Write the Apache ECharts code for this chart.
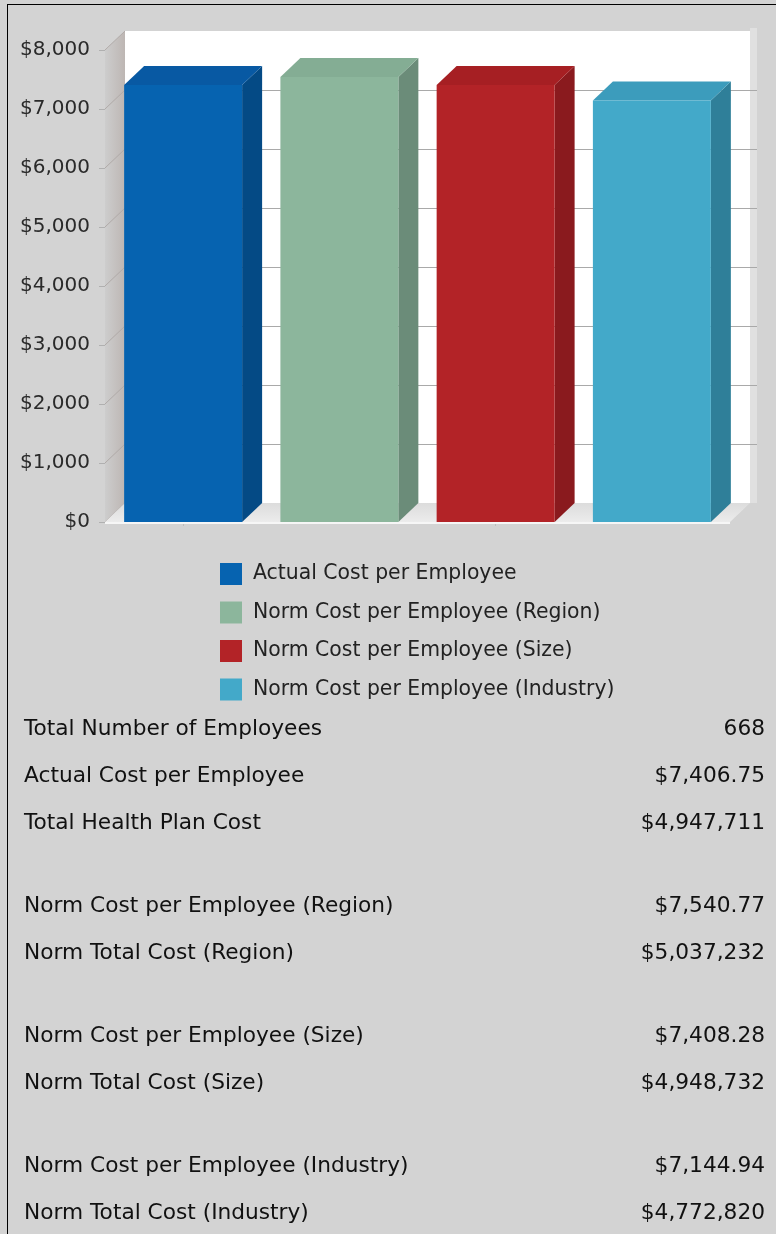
<!DOCTYPE html>
<html>
<head>
<meta charset="utf-8">
<script src="https://cdn.jsdelivr.net/npm/echarts/dist/echarts.min.js"></script>
<style>
  html, body { margin: 0; padding: 0; background: #d3d3d3; width: 776px; height: 1234px; overflow: hidden; }
  #frame { position: absolute; left: 7px; top: 4px; width: 769px; height: 1230px;
           border-top: 1px solid #000; border-left: 1px solid #000; }
  #chart { position: absolute; left: 0; top: 0; width: 776px; height: 720px; }
  #summary { position: absolute; left: 0; top: 0; width: 776px; height: 1234px;
             font-family: "DejaVu Sans", Verdana, sans-serif; font-size: 21.7px; color: #111; }
  .row { position: absolute; left: 24px; width: 741px; height: 30px; line-height: 30px;
         display: flex; justify-content: space-between; white-space: nowrap; }
</style>
</head>
<body>
<div id="frame"></div>
<div id="chart"></div>
<div id="summary"></div>
<script>
// ---- data ----
const seriesNames = [
  'Actual Cost per Employee',
  'Norm Cost per Employee (Region)',
  'Norm Cost per Employee (Size)',
  'Norm Cost per Employee (Industry)'
];
const costPerEmployee = [7406.75, 7540.77, 7408.28, 7144.94];

const yMin = 0, yMax = 8000, yStep = 1000;

const summaryGroups = [
  [['Total Number of Employees', '668'],
   ['Actual Cost per Employee', '$7,406.75'],
   ['Total Health Plan Cost', '$4,947,711']],
  [['Norm Cost per Employee (Region)', '$7,540.77'],
   ['Norm Total Cost (Region)', '$5,037,232']],
  [['Norm Cost per Employee (Size)', '$7,408.28'],
   ['Norm Total Cost (Size)', '$4,948,732']],
  [['Norm Cost per Employee (Industry)', '$7,144.94'],
   ['Norm Total Cost (Industry)', '$4,772,820']]
];

// ---- styling ----
const FONT = '"DejaVu Sans", Verdana, sans-serif';
const faceColors = [
  { front: '#0663b0', side: '#044a85', top: '#0859a3' },
  { front: '#8cb69c', side: '#6b8c79', top: '#84ad94' },
  { front: '#b32327', side: '#8a1a1e', top: '#a61f23' },
  { front: '#43a9c9', side: '#2f7f99', top: '#3c9cbc' }
];
const DX = 20, DY = 19;          // depth offset of the 3D box
const BAR_RATIO = 0.755;         // front face width / category band

// walls, floor and gridlines of the 3D box
function renderFrame(params, api) {
  const cs = params.coordSys;
  const L = cs.x, R = cs.x + cs.width, T = cs.y, B = cs.y + cs.height;
  const kids = [];
  kids.push({ type: 'rect', shape: { x: L + DX, y: T - DY, width: cs.width, height: cs.height },
              style: { fill: '#ffffff' } });
  kids.push({ type: 'rect', shape: { x: R + DX, y: T - DY - 3, width: 7, height: cs.height + 3 },
              style: { fill: '#e0e0e0' } });
  kids.push({ type: 'polygon', shape: { points: [[L, T], [L + DX, T - DY], [L + DX, B - DY], [L, B]] },
              style: { fill: new echarts.graphic.LinearGradient(0, 0, 1, 0, [
                { offset: 0, color: '#cdcdcd' }, { offset: 1, color: '#bdb6b3' }]) } });
  for (let v = yMin; v <= yMax; v += yStep) {
    const y = api.coord([0, v])[1];
    if (v > yMin && v < yMax) {
      kids.push({ type: 'line', shape: { x1: L + DX, y1: y - DY + 0.5, x2: R + DX + 7, y2: y - DY + 0.5 },
                  style: { stroke: '#a9a9a9', lineWidth: 1 } });
    }
    kids.push({ type: 'line', shape: { x1: L, y1: y, x2: L + DX, y2: y - DY },
                style: { stroke: '#b0aaa8', lineWidth: 1 } });
    kids.push({ type: 'line', shape: { x1: L - 6, y1: y + 0.5, x2: L, y2: y + 0.5 },
                style: { stroke: '#b0b0b0', lineWidth: 1 } });
  }
  kids.push({ type: 'polygon', shape: { points: [[L, B], [L + DX, B - DY], [R + DX, B - DY], [R, B]] },
              style: { fill: new echarts.graphic.LinearGradient(0, 0, 0, 1, [
                { offset: 0, color: '#dcdcdc' }, { offset: 1, color: '#ececec' }]) } });
  kids.push({ type: 'line', shape: { x1: L, y1: B + 1, x2: R, y2: B + 1 },
              style: { stroke: '#f6f6f6', lineWidth: 2 } });
  return { type: 'group', children: kids };
}

// one 3D bar: front, top and right side faces
function makeBarRenderer(k) {
  return function (params, api) {
    const cat = api.value(0), v = api.value(1);
    const base = api.coord([cat, 0]);
    const top = api.coord([cat, v]);
    const w = api.size([1, 0])[0] * BAR_RATIO;
    const x0 = base[0] - w / 2, x1 = x0 + w;
    const yT = top[1], yB = base[1];
    const c = faceColors[k];
    return {
      type: 'group',
      children: [
        { type: 'polygon', shape: { points: [[x1, yT], [x1 + DX, yT - DY], [x1 + DX, yB - DY], [x1, yB]] },
          style: { fill: c.side } },
        { type: 'polygon', shape: { points: [[x0, yT], [x0 + DX, yT - DY], [x1 + DX, yT - DY], [x1, yT]] },
          style: { fill: c.top } },
        { type: 'rect', shape: { x: x0, y: yT, width: w, height: yB - yT },
          style: { fill: c.front } }
      ]
    };
  };
}

const series = [{
  type: 'custom', name: 'frame', silent: true, z: 1,
  renderItem: renderFrame, data: [[0, 0]], clip: false
}];
seriesNames.forEach((name, k) => {
  series.push({
    type: 'custom', name: name, z: 2, clip: false,
    itemStyle: { color: faceColors[k].front },
    renderItem: makeBarRenderer(k),
    data: [[k, costPerEmployee[k]]]
  });
});

const chart = echarts.init(document.getElementById('chart'), null, { renderer: 'canvas' });
chart.setOption({
  animation: false,
  backgroundColor: 'transparent',
  grid: { left: 105, top: 50, width: 625, height: 472 },
  xAxis: {
    type: 'category', data: seriesNames,
    axisLine: { show: false },
    axisLabel: { show: false },
    axisTick: { show: true, alignWithLabel: true, length: 4, lineStyle: { color: '#bdbdbd' } },
    splitLine: { show: false }
  },
  yAxis: {
    type: 'value', min: yMin, max: yMax, interval: yStep,
    axisLine: { show: false }, axisTick: { show: false }, splitLine: { show: false },
    axisLabel: {
      margin: 15, fontFamily: FONT, fontSize: 20, color: '#2a2a2a',
      formatter: v => '$' + v.toLocaleString('en-US')
    }
  },
  legend: {
    data: seriesNames, orient: 'vertical', left: 220, top: 563, padding: 0,
    icon: 'rect', itemWidth: 22, itemHeight: 22, itemGap: 16.5,
    selectedMode: false,
    textStyle: { fontFamily: FONT, fontSize: 20.4, color: '#222', padding: [0, 0, 0, 6] }
  },
  series: series
});

// summary rows under the chart
const summary = document.getElementById('summary');
const FIRST_ROW = 728, ROW_STEP = 47, GROUP_GAP = 36;
let yc = FIRST_ROW;
summaryGroups.forEach((group, gi) => {
  if (gi > 0) yc += GROUP_GAP;
  group.forEach((r, ri) => {
    if (gi > 0 || ri > 0) yc += ROW_STEP;
    const div = document.createElement('div');
    div.className = 'row';
    div.style.top = (yc - 15) + 'px';
    const a = document.createElement('span'); a.textContent = r[0];
    const b = document.createElement('span'); b.textContent = r[1];
    div.appendChild(a); div.appendChild(b);
    summary.appendChild(div);
  });
});
</script>
</body>
</html>
